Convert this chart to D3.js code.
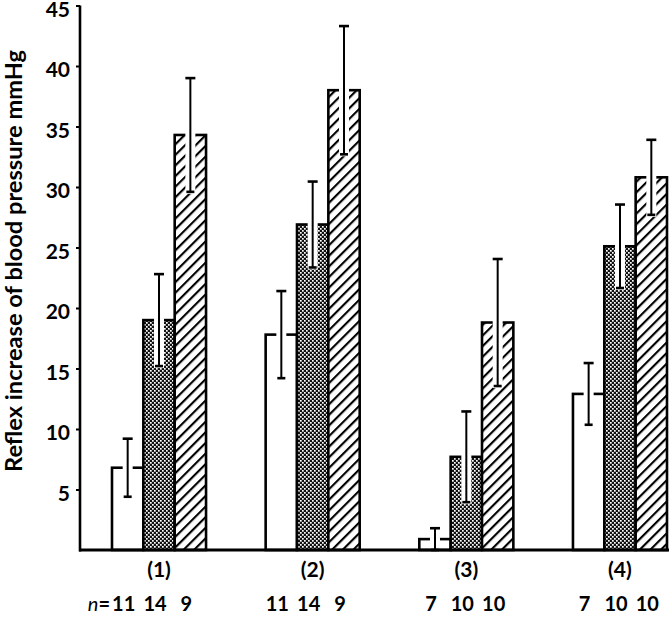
<!DOCTYPE html>
<html>
<head>
<meta charset="utf-8">
<script src="https://cdn.jsdelivr.net/npm/d3@7"></script>
<style>
  body { margin: 0; background: #fff; }
  svg { display: block; }
  text { font-family: Lato, "Open Sans", sans-serif; font-weight: 700; fill: #000; }
</style>
</head>
<body>
<div id="chart"></div>
<script>
// groups and series
var groups = ["(1)", "(2)", "(3)", "(4)"]
var series = ["plain", "stipple", "hatch"]

// mean reflex increase (mmHg) and s.e. for each series, per group
var plainMean = [6.8, 17.8, 0.9, 12.9]
var plainSE = [2.4, 3.6, 0.9, 2.55]
var stippleMean = [19.0, 26.9, 7.7, 25.1]
var stippleSE = [3.8, 3.55, 3.75, 3.45]
var hatchMean = [34.3, 38.0, 18.8, 30.8]
var hatchSE = [4.7, 5.3, 5.25, 3.1]

// number of observations under each bar
var nCounts = [[11, 14, 9], [11, 14, 9], [7, 10, 10], [7, 10, 10]]

var yTicks = [5, 10, 15, 20, 25, 30, 35, 40, 45]

var width = 669, height = 617

var svg = d3.select("#chart")
  .append("svg")
    .attr("width", width)
    .attr("height", height)

// patterns
var defs = svg.append("defs")

var stip = defs.append("pattern")
  .attr("id", "stipple")
  .attr("patternUnits", "userSpaceOnUse")
  .attr("width", 4)
  .attr("height", 4)
stip.append("rect").attr("width", 4).attr("height", 4).attr("fill", "#111")
stip.append("rect").attr("x", 0).attr("y", 0).attr("width", 1.7).attr("height", 1.7).attr("fill", "#fff")
stip.append("rect").attr("x", 2).attr("y", 2).attr("width", 1.7).attr("height", 1.7).attr("fill", "#fff")

var hatch = defs.append("pattern")
  .attr("id", "hatch")
  .attr("patternUnits", "userSpaceOnUse")
  .attr("width", 7.5)
  .attr("height", 7.5)
  .attr("patternTransform", "rotate(45)")
hatch.append("rect").attr("width", 7.5).attr("height", 7.5).attr("fill", "#fff")
hatch.append("line")
  .attr("x1", 1).attr("y1", 0).attr("x2", 1).attr("y2", 7.5)
  .attr("stroke", "#000").attr("stroke-width", 2.3)

// scales
var y = d3.scaleLinear().domain([0, 45]).range([550, 5.5])

var x0 = d3.scaleBand()
  .domain(groups)
  .range([112, 667])
  .paddingInner(0.388)
  .paddingOuter(0)

var x1 = d3.scaleBand()
  .domain(series)
  .range([0, x0.bandwidth()])
  .padding(0)

var fills = { plain: "#fff", stipple: "url(#stipple)", hatch: "url(#hatch)" }

// flatten into bar records
var bars = []
groups.forEach(function(g, i) {
  bars.push({ g: g, s: "plain", mean: plainMean[i], se: plainSE[i], n: nCounts[i][0] })
  bars.push({ g: g, s: "stipple", mean: stippleMean[i], se: stippleSE[i], n: nCounts[i][1] })
  bars.push({ g: g, s: "hatch", mean: hatchMean[i], se: hatchSE[i], n: nCounts[i][2] })
})

function cx(d) { return x0(d.g) + x1(d.s) + x1.bandwidth() / 2 }

// bars
svg.append("g")
  .selectAll("rect")
  .data(bars)
  .enter()
  .append("rect")
    .attr("x", function(d) { return x0(d.g) + x1(d.s) })
    .attr("y", function(d) { return y(d.mean) })
    .attr("width", x1.bandwidth())
    .attr("height", function(d) { return y(0) - y(d.mean) })
    .attr("fill", function(d) { return fills[d.s] })
    .attr("stroke", "#000")
    .attr("stroke-width", 2.6)

// white gap around the error line inside the bar
svg.append("g")
  .selectAll("rect")
  .data(bars)
  .enter()
  .append("rect")
    .attr("x", function(d) { return cx(d) - 5 })
    .attr("y", function(d) { return y(d.mean) - 2 })
    .attr("width", 10)
    .attr("height", function(d) { return Math.min(y(d.mean - d.se) + 2, y(0) - 2) - y(d.mean) + 2 })
    .attr("fill", "#fff")

// error bars
var eb = svg.append("g")
  .attr("stroke", "#000")
  .selectAll("g")
  .data(bars)
  .enter()
  .append("g")

eb.append("line")
  .attr("x1", cx).attr("x2", cx)
  .attr("y1", function(d) { return y(d.mean + d.se) })
  .attr("y2", function(d) { return y(Math.max(d.mean - d.se, 0)) })
  .attr("stroke-width", 2)

eb.append("line")
  .attr("x1", function(d) { return cx(d) - 5 })
  .attr("x2", function(d) { return cx(d) + 5 })
  .attr("y1", function(d) { return y(d.mean + d.se) })
  .attr("y2", function(d) { return y(d.mean + d.se) })
  .attr("stroke-width", 2.6)

eb.append("line")
  .attr("x1", function(d) { return cx(d) - 4 })
  .attr("x2", function(d) { return cx(d) + 4 })
  .attr("y1", function(d) { return y(Math.max(d.mean - d.se, 0)) })
  .attr("y2", function(d) { return y(Math.max(d.mean - d.se, 0)) })
  .attr("stroke-width", 2.6)

// y axis
var yAxis = svg.append("g")
  .attr("transform", "translate(80,0)")
  .call(d3.axisLeft(y).tickValues(yTicks).tickSize(4).tickSizeOuter(0).tickPadding(6))
yAxis.select(".domain").remove()
yAxis.selectAll(".tick line").attr("stroke-width", 2)
yAxis.selectAll(".tick text")
  .attr("font-size", 21)
  .attr("dy", "0.52em")
  .style("font-family", "Lato, sans-serif")
  .style("font-weight", 700)

svg.append("line")
  .attr("x1", 80).attr("x2", 80)
  .attr("y1", y(45)).attr("y2", y(0) + 1.5)
  .attr("stroke", "#000").attr("stroke-width", 2.6)

// baseline
svg.append("line")
  .attr("x1", 79).attr("x2", width)
  .attr("y1", y(0)).attr("y2", y(0))
  .attr("stroke", "#000").attr("stroke-width", 3)

// y axis title
svg.append("text")
  .attr("transform", "translate(22," + 261 + ") rotate(-90)")
  .attr("text-anchor", "middle")
  .attr("font-size", 23)
  .attr("textLength", 422)
  .attr("lengthAdjust", "spacingAndGlyphs")
  .text("Reflex increase of blood pressure mmHg")

// group labels
svg.append("g")
  .selectAll("text")
  .data(groups)
  .enter()
  .append("text")
    .attr("x", function(d) { return x0(d) + x0.bandwidth() / 2 })
    .attr("y", 577)
    .attr("text-anchor", "middle")
    .attr("font-size", 21)
    .text(function(d) { return d })

// n counts
svg.append("g")
  .selectAll("text")
  .data(bars)
  .enter()
  .append("text")
    .attr("x", function(d) { return cx(d) - 4 })
    .attr("y", 611)
    .attr("text-anchor", "middle")
    .attr("font-size", 20)
    .text(function(d) { return d.n })

var nLab = svg.append("text")
  .attr("x", 110)
  .attr("y", 611)
  .attr("text-anchor", "end")
  .attr("font-size", 20)
nLab.append("tspan").attr("font-style", "italic").attr("font-weight", 400).text("n")
nLab.append("tspan").text("=")
</script>
</body>
</html>
